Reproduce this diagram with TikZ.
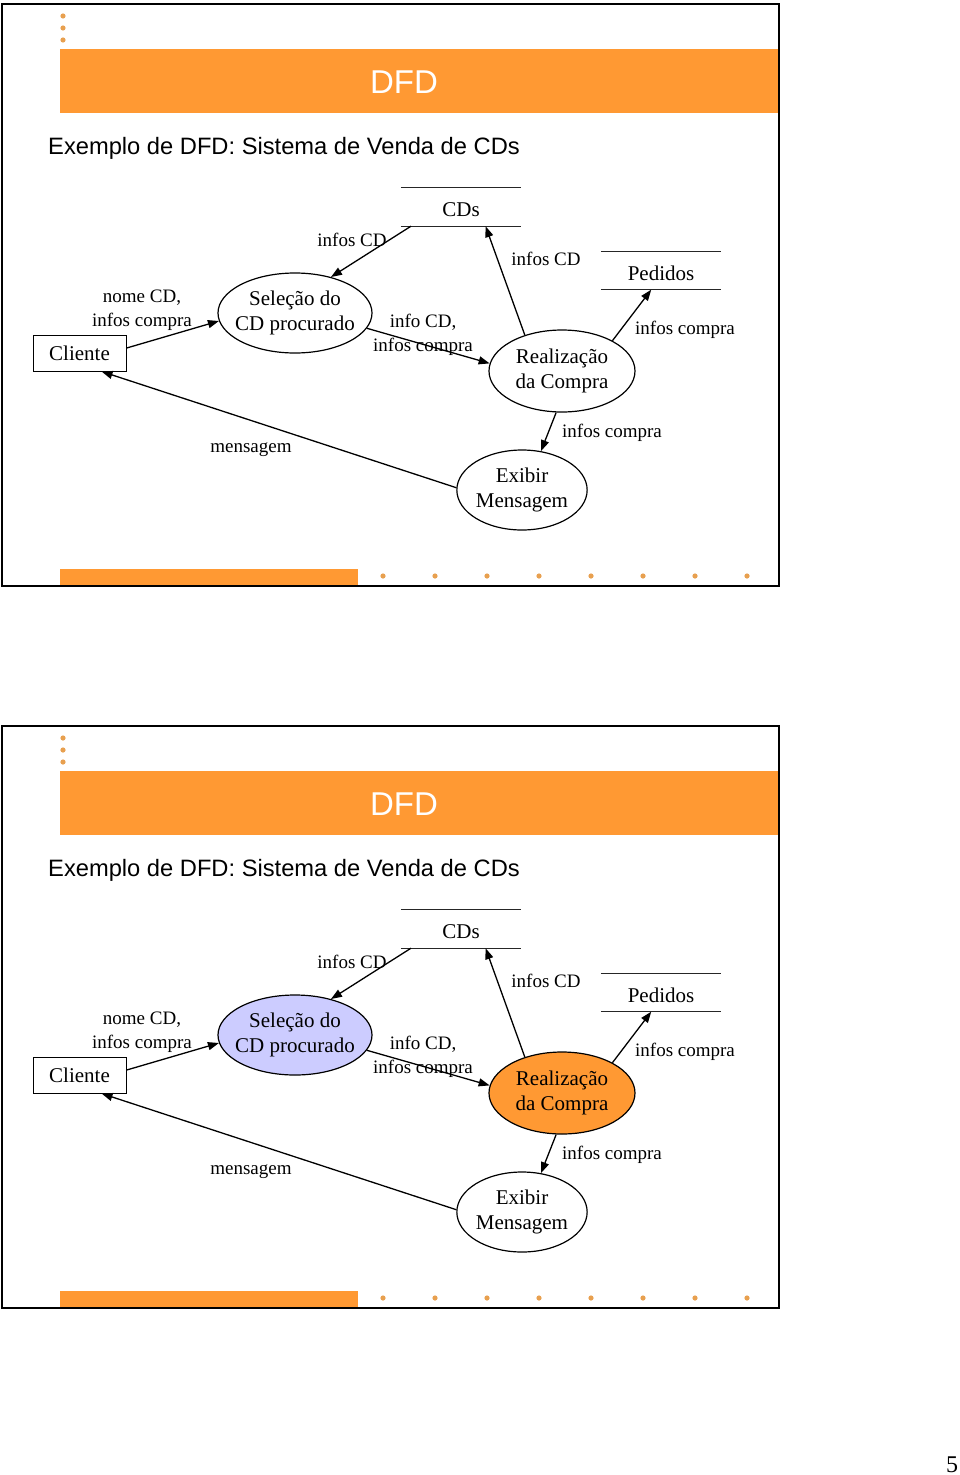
\documentclass[tikz,border=0pt]{standalone}
\usepackage{fontspec}
\setmainfont{Liberation Serif}
\newfontfamily\arialf{Liberation Sans}
\usetikzlibrary{arrows.meta,calc,shapes.geometric}
\definecolor{orng}{HTML}{FF9933}
\definecolor{dotc}{HTML}{E8A04F}
\definecolor{lav}{HTML}{CCCCFF}
\tikzset{
  proc/.style={ellipse, draw, line width=1.2pt, inner sep=0pt, align=center,
    font=\fontsize{21}{25.5}\selectfont},
  ent/.style={rectangle, draw, line width=1pt, inner sep=0pt, minimum width=93pt,
    minimum height=36pt, font=\fontsize{21}{25.5}\selectfont},
  dfdstore/.style={rectangle, inner sep=0pt, minimum width=120pt, minimum height=38pt,
    font=\fontsize{21}{25.5}\selectfont},
  storeline/.style={line width=1.2pt, draw=black!85},
  lbl/.style={inner sep=0pt, align=center, yshift=-3pt, font=\fontsize{19}{23.5}\selectfont},
  arr/.style={line width=1.3pt, -{Triangle[length=11pt,width=8pt]}},
  dotmark/.style={fill=dotc},
}
\newcommand\dfdslide[4]{%
\begin{scope}[yshift=#1]
  % header
  \foreach \yy in {16,28,40} \fill[dotmark] (63,\yy) circle[radius=2.6pt];
  \fill[orng] (60,49) rectangle (779,113);
  \node[font=\arialf\fontsize{33}{33}\selectfont, text=white, inner sep=0pt] (ttl#2) at (404,82) {DFD};
  \node[anchor=west, font=\arialf\fontsize{23.7}{28}\selectfont, inner sep=0pt] (sub#2) at (48,148) {Exemplo de DFD: Sistema de Venda de CDs};
  % footer
  \fill[orng] (60,569) rectangle (358,586);
  \foreach \xx in {383,435,...,747} \fill[dotmark] (\xx,576) circle[radius=2.6pt];
  \draw[line width=2pt] (2,4) rectangle (779,586);
  % nodes
  \node[dfdstore] (cds#2) at (461,207) {};
  \node[inner sep=0pt, font=\fontsize{21}{25.5}\selectfont] (cdst#2) at (461,210) {CDs};
  \draw[storeline] (cds#2.north west) -- (cds#2.north east) (cds#2.south west) -- (cds#2.south east);
  \node[dfdstore] (ped#2) at (661,270.5) {};
  \node[inner sep=0pt, font=\fontsize{21}{25.5}\selectfont] (pedt#2) at (661,273.5) {Pedidos};
  \draw[storeline] (ped#2.north west) -- (ped#2.north east) (ped#2.south west) -- (ped#2.south east);
  \node[ent] (cli#2) at (79.5,353) {Cliente};
  \node[proc, inner xsep=-6pt, minimum width=154pt, minimum height=80pt, fill=#3] (sel#2) at (295,313) {Seleção do\\CD procurado};
  \node[proc, minimum width=146pt, minimum height=82pt, fill=#4] (real#2) at (562,371) {Realização\\da Compra};
  \node[proc, minimum width=130pt, minimum height=80pt, fill=white] (exi#2) at (522,490) {Exibir\\Mensagem};
  % flows
  \draw[arr] (cli#2.6) -- (sel#2.186);
  \draw[arr] (cds#2.201) -- (sel#2.45);
  \draw[arr] (sel#2.348) -- (real#2.174);
  \draw[arr] (real#2.136) -- (cds#2.322);
  \draw[arr] (real#2.31) -- (ped#2.243);
  \draw[arr] (real#2.262) -- (exi#2.64);
  \draw[arr] (exi#2.178) -- (cli#2.320);
  % labels
  \node[lbl] (l1#2) at (142,307) {nome CD,\\infos compra};
  \node[lbl] (l2#2) at (352,237) {infos CD};
  \node[lbl] (l3#2) at (423,332) {info CD,\\infos compra};
  \node[lbl] (l4#2) at (546,256) {infos CD};
  \node[lbl] (l5#2) at (685,327) {infos compra};
  \node[lbl] (l6#2) at (612,430) {infos compra};
  \node[lbl] (l7#2) at (251,447) {mensagem};
\end{scope}}
\begin{document}
\begin{tikzpicture}[x=1pt, y=-1pt]
  \useasboundingbox[fill=white] (0,0) rectangle (960,1475);
  \dfdslide{0pt}{a}{white}{white}
  \dfdslide{-722pt}{b}{lav}{orng}
  \node[font=\fontsize{24}{24}\selectfont, inner sep=0pt] (pg) at (952,1465) {5};
\end{tikzpicture}
\end{document}
